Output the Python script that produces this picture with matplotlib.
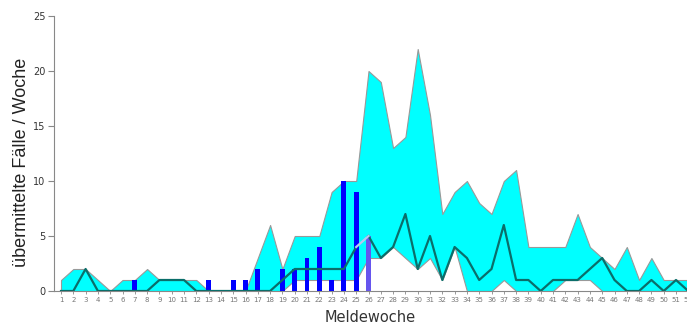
"""Übermittelte Fälle pro Meldewoche mit Spannweite der Vorjahre."""

import matplotlib.pyplot as plt
import numpy as np

weeks = np.arange(1, 53)

band_max = [1, 2, 2, 1, 0, 1, 1, 2, 1, 1, 1, 1, 0, 0, 0, 0, 3, 6, 2, 5,
            5, 5, 9, 10, 10, 20, 19, 13, 14, 22, 16, 7, 9, 10, 8, 7, 10, 11, 4, 4,
            4, 4, 7, 4, 3, 2, 4, 1, 3, 1, 1, 1]
band_min = [0, 0, 0, 0, 0, 0, 0, 0, 0, 0, 0, 0, 0, 0, 0, 0, 0, 0, 0, 1,
            1, 1, 1, 1, 1, 3, 3, 4, 3, 2, 3, 1, 4, 0, 0, 0, 1, 0, 0, 0,
            0, 1, 1, 1, 0, 0, 0, 0, 0, 0, 0, 0]
mean_line = [0, 0, 2, 0, 0, 0, 0, 0, 1, 1, 1, 0, 0, 0, 0, 0, 0, 0, 1, 2,
             2, 2, 2, 2, 4, 5, 3, 4, 7, 2, 5, 1, 4, 3, 1, 2, 6, 1, 1, 0,
             1, 1, 1, 2, 3, 1, 0, 0, 1, 0, 1, 0]

bar_weeks = [7, 13, 15, 16, 17, 19, 20, 21, 22, 23, 24, 25]
bar_values = [1, 1, 1, 1, 2, 2, 2, 3, 4, 1, 10, 9]
current_week = 26
current_value = 5

W, H = 687, 324
fig = plt.figure(figsize=(W / 100, H / 100), dpi=100)
fig.patch.set_facecolor("white")

# week 1 sits at pixel 61, 12.3 px per week; y: 0 at 291, 25 at 16
x_left, x_right = 0.43, 52.45
ax = fig.add_axes([54 / W, 33 / H, (61 + (x_right - 1) * 12.3 - 54) / W, 275 / H])

ax.fill_between(weeks, band_min, band_max, color="#00ffff",
                edgecolor="#999999", linewidth=0.8, zorder=1)

ax.bar(bar_weeks, bar_values, width=0.4, color="#0000ff", zorder=2)
ax.bar([current_week], [current_value], width=0.4, color="#6655ee", zorder=2)

ax.plot(weeks[:25], mean_line[:25], color="#0b6e6a", linewidth=1.6, zorder=3)
ax.plot(weeks[25:], mean_line[25:], color="#0b6e6a", linewidth=1.6, zorder=3)
ax.plot(weeks[24:26], mean_line[24:26], color="#b8c8f0", linewidth=1.6, zorder=3)

ax.set_xlim(x_left, x_right)
ax.set_ylim(0, 25)

for side in ("top", "right"):
    ax.spines[side].set_visible(False)
ax.spines["left"].set_color("#888888")
ax.spines["bottom"].set_color("#888888")
ax.spines["left"].set_linewidth(0.8)
ax.spines["bottom"].set_linewidth(0.8)

ax.set_yticks([0, 5, 10, 15, 20, 25])
ax.set_xticks(weeks)
ax.set_xticklabels([str(w) for w in weeks])
ax.tick_params(axis="y", labelsize=7, colors="#888888", labelcolor="#333333",
               length=4, width=0.8, pad=2)
ax.tick_params(axis="x", labelsize=5, colors="#888888", labelcolor="#777777",
               length=2.5, width=0.6, pad=2)

fig.text(22 / W, 1 - 162 / H, "übermittelte Fälle / Woche", fontsize=13,
         family="Liberation Sans", color="#222222", rotation=90,
         ha="center", va="center")
fig.text(370 / W, 1 - 317 / H, "Meldewoche", fontsize=10.5, color="#333333",
         ha="center", va="center")

fig.savefig("out.png", dpi=100, facecolor="white")
